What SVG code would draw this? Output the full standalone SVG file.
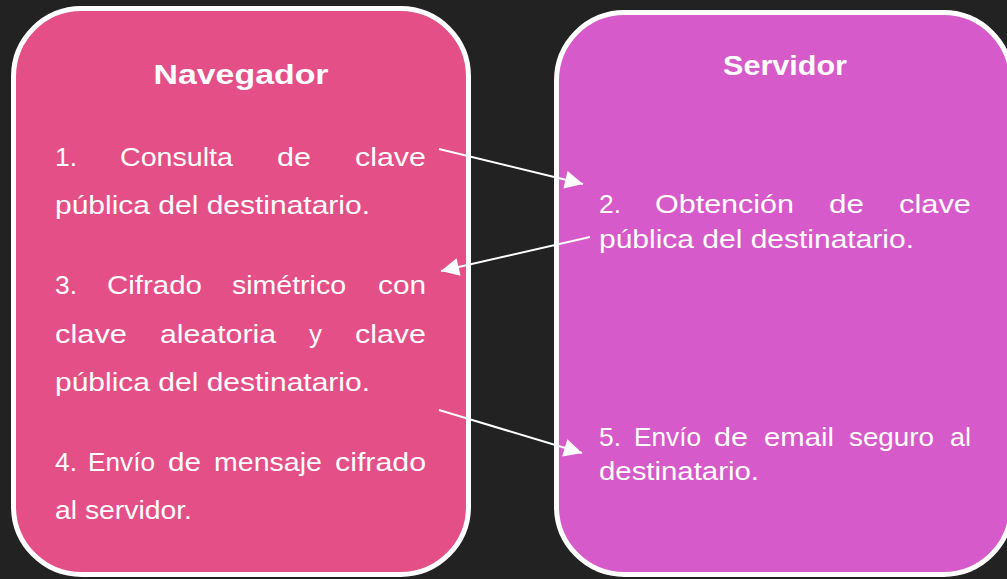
<svg xmlns="http://www.w3.org/2000/svg" width="1007" height="579" viewBox="0 0 1007 579">
<defs>
<style>
.bg{fill:#222222}
.box{stroke:#ffffff;stroke-width:5}
.nav{fill:#E34F86}
.srv{fill:#D65AC9}
.t{font-family:"Liberation Sans",Arial,sans-serif;font-size:25px;fill:#ffffff}
.h{font-family:"Liberation Sans",Arial,sans-serif;font-size:28px;font-weight:bold;fill:#ffffff;text-anchor:middle}
.c{stroke:#ffffff;stroke-width:2;fill:none}
</style>
<marker id="ah" viewBox="0 0 10 10" refX="10" refY="5" markerWidth="10" markerHeight="9" markerUnits="strokeWidth" orient="auto">
<path d="M0,0 L10,5 L0,10 z" fill="#ffffff"/>
</marker>
</defs>
<rect class="bg" x="0" y="0" width="1007" height="579"/>
<g id="navegador">
<rect class="box nav" x="13.5" y="8.5" width="455" height="566" rx="68" ry="68"/>
<text class="h" x="241" y="84" textLength="175" lengthAdjust="spacingAndGlyphs">Navegador</text>
<text class="t" x="55" y="166" textLength="22" lengthAdjust="spacingAndGlyphs">1.</text>
<text class="t" x="120" y="166" textLength="113" lengthAdjust="spacingAndGlyphs">Consulta</text>
<text class="t" x="277" y="166" textLength="34" lengthAdjust="spacingAndGlyphs">de</text>
<text class="t" x="355" y="166" textLength="71" lengthAdjust="spacingAndGlyphs">clave</text>
<text class="t" x="55" y="214" textLength="315" lengthAdjust="spacingAndGlyphs">pública del destinatario.</text>
<text class="t" x="55" y="294" textLength="22" lengthAdjust="spacingAndGlyphs">3.</text>
<text class="t" x="107" y="294" textLength="95" lengthAdjust="spacingAndGlyphs">Cifrado</text>
<text class="t" x="232" y="294" textLength="114" lengthAdjust="spacingAndGlyphs">simétrico</text>
<text class="t" x="378" y="294" textLength="48" lengthAdjust="spacingAndGlyphs">con</text>
<text class="t" x="55" y="343" textLength="72" lengthAdjust="spacingAndGlyphs">clave</text>
<text class="t" x="160" y="343" textLength="116" lengthAdjust="spacingAndGlyphs">aleatoria</text>
<text class="t" x="309" y="343" textLength="13" lengthAdjust="spacingAndGlyphs">y</text>
<text class="t" x="355" y="343" textLength="71" lengthAdjust="spacingAndGlyphs">clave</text>
<text class="t" x="55" y="391" textLength="315" lengthAdjust="spacingAndGlyphs">pública del destinatario.</text>
<text class="t" x="55" y="471" textLength="22" lengthAdjust="spacingAndGlyphs">4.</text>
<text class="t" x="88" y="471" textLength="67" lengthAdjust="spacingAndGlyphs">Envío</text>
<text class="t" x="168" y="471" textLength="33" lengthAdjust="spacingAndGlyphs">de</text>
<text class="t" x="214" y="471" textLength="108" lengthAdjust="spacingAndGlyphs">mensaje</text>
<text class="t" x="335" y="471" textLength="91" lengthAdjust="spacingAndGlyphs">cifrado</text>
<text class="t" x="55" y="519" textLength="137" lengthAdjust="spacingAndGlyphs">al servidor.</text>
</g>
<g id="servidor">
<rect class="box srv" x="556.5" y="12.5" width="455" height="562" rx="68" ry="68"/>
<text class="h" x="785" y="75" textLength="124" lengthAdjust="spacingAndGlyphs">Servidor</text>
<text class="t" x="599" y="213" textLength="22" lengthAdjust="spacingAndGlyphs">2.</text>
<text class="t" x="655" y="213" textLength="139" lengthAdjust="spacingAndGlyphs">Obtención</text>
<text class="t" x="829" y="213" textLength="35" lengthAdjust="spacingAndGlyphs">de</text>
<text class="t" x="899" y="213" textLength="72" lengthAdjust="spacingAndGlyphs">clave</text>
<text class="t" x="599" y="248" textLength="315" lengthAdjust="spacingAndGlyphs">pública del destinatario.</text>
<text class="t" x="599" y="446" textLength="22" lengthAdjust="spacingAndGlyphs">5.</text>
<text class="t" x="634" y="446" textLength="67" lengthAdjust="spacingAndGlyphs">Envío</text>
<text class="t" x="714" y="446" textLength="34" lengthAdjust="spacingAndGlyphs">de</text>
<text class="t" x="764" y="446" textLength="70" lengthAdjust="spacingAndGlyphs">email</text>
<text class="t" x="849" y="446" textLength="85" lengthAdjust="spacingAndGlyphs">seguro</text>
<text class="t" x="950" y="446" textLength="21" lengthAdjust="spacingAndGlyphs">al</text>
<text class="t" x="599" y="480" textLength="160" lengthAdjust="spacingAndGlyphs">destinatario.</text>
</g>
<g id="connectors">
<line class="c" x1="439" y1="149" x2="583" y2="184" marker-end="url(#ah)"/>
<line class="c" x1="590" y1="237" x2="441" y2="271" marker-end="url(#ah)"/>
<line class="c" x1="439" y1="410" x2="582" y2="453" marker-end="url(#ah)"/>
</g>
</svg>
